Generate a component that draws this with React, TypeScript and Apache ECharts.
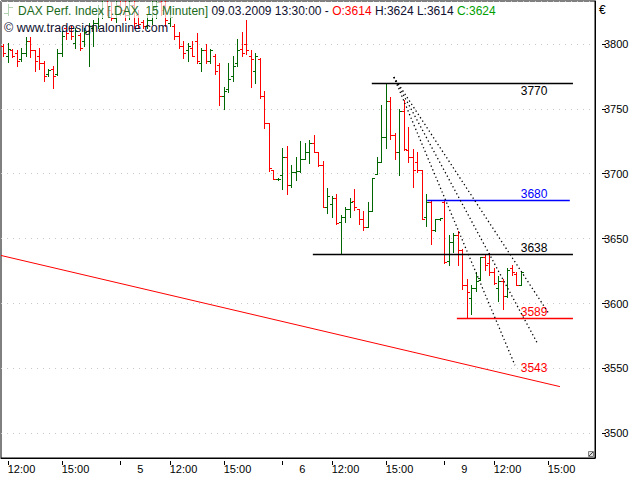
import React, { useEffect, useRef } from 'react';
import * as echarts from 'echarts';

// ---- time axis (15-minute bars, labelled by bar end time) ----
const DAYS = ['4', '5', '6', '9'];
const DAY_FIRST_SLOT = [10, 0, 0, 0]; // slot 0 = 09:15
const DAY_LAST_SLOT = [35, 35, 35, 33]; // slot 35 = 18:00
const TIME_LABELS = ['12:00', '15:00'];

// ---- OHLC values (DAX, 15 min) ----
const OPEN = [
  3798, 3791, 3795, 3793, 3788, 3793, 3802, 3795, 3791, 3785, 3777, 3781, 3777, 3793, 3812, 3810, 3801, 3807, 3802, 3810,
  3812, 3816, 3825, 3834, 3826, 3820, 3830, 3826, 3822, 3830, 3822, 3817, 3814, 3818, 3828, 3832, 3830, 3816, 3814, 3806,
  3798, 3795, 3797, 3802, 3785, 3795, 3787, 3791, 3784, 3760, 3765, 3775, 3785, 3796, 3800, 3791, 3779, 3788, 3760, 3739,
  3703, 3696, 3699, 3713, 3691, 3701, 3702, 3711, 3717, 3724, 3717, 3707, 3674, 3677, 3681, 3663, 3667, 3673, 3679, 3673,
  3665, 3659, 3671, 3700, 3709, 3728, 3756, 3730, 3717, 3748, 3718, 3713, 3709, 3703, 3667, 3678, 3657, 3665, 3678, 3633,
  3647, 3653, 3641, 3614, 3604, 3612, 3620, 3636, 3631, 3624, 3612, 3617, 3606, 3627, 3623, 3614,
];
const HIGH = [
  3800, 3801, 3796, 3795, 3797, 3805, 3805, 3795, 3797, 3787, 3781, 3783, 3796, 3810, 3814, 3814, 3812, 3808, 3812, 3816,
  3818, 3830, 3838, 3840, 3832, 3836, 3838, 3834, 3835, 3838, 3826, 3818, 3822, 3834, 3838, 3842, 3840, 3826, 3815, 3809,
  3802, 3801, 3802, 3808, 3797, 3800, 3796, 3792, 3785, 3767, 3785, 3791, 3804, 3809, 3818, 3795, 3793, 3789, 3764, 3739,
  3703, 3697, 3720, 3721, 3707, 3713, 3725, 3724, 3726, 3730, 3717, 3710, 3689, 3683, 3684, 3668, 3674, 3681, 3688, 3673,
  3671, 3678, 3697, 3713, 3753, 3770, 3759, 3731, 3750, 3757, 3736, 3719, 3717, 3703, 3684, 3680, 3665, 3666, 3680, 3653,
  3654, 3656, 3642, 3619, 3614, 3624, 3636, 3638, 3639, 3627, 3621, 3619, 3627, 3630, 3624, 3624,
];
const LOW = [
  3791, 3786, 3790, 3783, 3787, 3791, 3790, 3779, 3781, 3771, 3775, 3766, 3776, 3791, 3804, 3804, 3797, 3795, 3798, 3783,
  3798, 3812, 3820, 3822, 3818, 3817, 3822, 3818, 3819, 3812, 3812, 3812, 3812, 3815, 3820, 3822, 3814, 3814, 3804, 3797,
  3789, 3787, 3791, 3785, 3779, 3785, 3785, 3777, 3753, 3750, 3763, 3771, 3783, 3791, 3792, 3767, 3770, 3758, 3735, 3702,
  3696, 3695, 3688, 3684, 3690, 3695, 3701, 3711, 3708, 3717, 3706, 3674, 3670, 3667, 3661, 3638, 3663, 3667, 3672, 3661,
  3657, 3659, 3671, 3700, 3709, 3720, 3727, 3711, 3699, 3718, 3709, 3690, 3701, 3665, 3660, 3646, 3656, 3664, 3631, 3630,
  3640, 3630, 3611, 3589, 3592, 3610, 3618, 3626, 3622, 3615, 3602, 3596, 3605, 3622, 3614, 3614,
];
const CLOSE = [
  3793, 3796, 3791, 3787, 3793, 3802, 3795, 3787, 3785, 3775, 3780, 3775, 3793, 3806, 3808, 3806, 3810, 3797, 3809, 3814,
  3816, 3825, 3834, 3826, 3820, 3830, 3826, 3822, 3830, 3816, 3815, 3814, 3818, 3828, 3832, 3826, 3818, 3821, 3806, 3798,
  3793, 3798, 3791, 3787, 3795, 3787, 3795, 3779, 3760, 3764, 3773, 3783, 3795, 3793, 3795, 3788, 3791, 3760, 3739, 3704,
  3696, 3696, 3713, 3691, 3701, 3702, 3711, 3717, 3724, 3717, 3707, 3674, 3683, 3681, 3662, 3667, 3673, 3678, 3674, 3665,
  3659, 3671, 3697, 3709, 3728, 3756, 3730, 3717, 3748, 3719, 3713, 3703, 3703, 3665, 3678, 3657, 3665, 3666, 3632, 3647,
  3653, 3641, 3614, 3609, 3612, 3617, 3636, 3630, 3624, 3616, 3617, 3606, 3626, 3624, 3614, 3624,
];

// ---- drawing tools (positions in bar-index units and index values) ----
const LEVEL_VALUES = [3770, 3680, 3638, 3589];
const LEVEL_FROM = [81.9, 94.2, 68.8, 100.8];
const LEVEL_TO = [126.6, 125.9, 126.6, 126.6];
const LEVEL_COLORS = ['#000000', '#0000ff', '#000000', '#ff0000'];
const LEVEL_LABEL_BELOW = [true, false, false, false];
const LABEL_INDEX = 115;

const TREND_FROM = [-0.5, 3637];
const TREND_TO = [123.7, 3536];

const FAN_START = [86.8, 3774.4];
const FAN_END_INDEX = [113.7, 118.6, 121.1];
const FAN_END_VALUE = [3552.5, 3570, 3593];

const Y_MIN = 3481;
const Y_MAX = 3833;

const GREEN = '#006600';
const RED = '#ff0000';
const FONT = "'Liberation Sans', Arial, sans-serif";

function pad2(n: number) {
  return n < 10 ? '0' + n : String(n);
}

const CATS: string[] = [];
DAYS.forEach((d, k) => {
  for (let s = DAY_FIRST_SLOT[k]; s <= DAY_LAST_SLOT[k]; s++) {
    const m = 9 * 60 + 15 + s * 15;
    CATS.push(d + ' ' + pad2(Math.floor(m / 60)) + ':' + pad2(m % 60));
  }
});

function isLabelled(index: number, value: string) {
  const t = value.split(' ')[1];
  return t === '09:15' || TIME_LABELS.indexOf(t) >= 0;
}

function px(api: any, idx: number, v: number) {
  const a = api.coord([0, v]);
  const b = api.coord([1, v]);
  return [a[0] + (b[0] - a[0]) * idx, a[1]];
}

export default function App() {
  const ref = useRef<HTMLDivElement>(null);
  useEffect(() => {
    if (!ref.current) return;
    const chart = echarts.init(ref.current, undefined, { renderer: 'svg' });

    const ohlc = OPEN.map((o, i) => [i, o, HIGH[i], LOW[i], CLOSE[i]]);

    const option: any = {
      animation: false,
      backgroundColor: '#ffffff',
      textStyle: { fontFamily: FONT },
      grid: {
        left: 1,
        right: 45,
        top: 1,
        bottom: 22,
        show: true,
        borderColor: '#000',
        borderWidth: 1,
        backgroundColor: 'transparent',
      },
      xAxis: [
        {
          type: 'category',
          data: CATS,
          boundaryGap: true,
          axisLine: { show: true, lineStyle: { color: '#000' } },
          axisTick: { show: false },
          axisLabel: { show: false },
          splitLine: { show: false },
        },
        {
          type: 'category',
          data: CATS,
          position: 'bottom',
          offset: 3,
          boundaryGap: true,
          axisLine: { show: false },
          axisTick: {
            show: true,
            alignWithLabel: true,
            interval: isLabelled,
            length: 4,
            lineStyle: { color: '#000' },
          },
          axisLabel: {
            interval: isLabelled,
            align: 'left',
            margin: 2,
            fontSize: 11,
            fontFamily: FONT,
            color: '#000',
            formatter: (v: string) => {
              const [d, t] = v.split(' ');
              return t === '09:15' ? '{d|' + d + '}' : t;
            },
            rich: { d: { padding: [0, 0, 0, 17], fontSize: 11, fontFamily: FONT, color: '#000' } },
          },
          splitLine: { show: false },
        },
      ],
      yAxis: [
        {
          type: 'value',
          position: 'right',
          min: Y_MIN,
          max: Y_MAX,
          splitNumber: 7,
          axisLine: { show: true, lineStyle: { color: '#000' } },
          axisTick: { show: false },
          axisLabel: { show: false },
          splitLine: { show: true, lineStyle: { color: '#c8c8c8', type: [1, 5], width: 1 } },
        },
        {
          type: 'value',
          position: 'right',
          offset: 7,
          min: Y_MIN,
          max: Y_MAX,
          splitNumber: 7,
          axisLine: { show: false },
          axisTick: { show: true, length: 4, lineStyle: { color: '#000' } },
          axisLabel: {
            showMinLabel: false,
            showMaxLabel: false,
            margin: 2,
            fontSize: 11,
            fontFamily: FONT,
            color: '#000',
            formatter: (v: number) => String(v),
          },
          splitLine: { show: false },
        },
      ],
      series: [
        {
          type: 'custom',
          name: 'DAX',
          clip: true,
          silent: true,
          xAxisIndex: 0,
          yAxisIndex: 0,
          encode: { x: 0, y: [1, 2, 3, 4] },
          data: ohlc,
          renderItem: (params: any, api: any) => {
            const i = api.value(0);
            const o = api.value(1);
            const h = api.value(2);
            const l = api.value(3);
            const c = api.value(4);
            const pH = api.coord([i, h]);
            const pL = api.coord([i, l]);
            const pO = api.coord([i, o]);
            const pC = api.coord([i, c]);
            const x = Math.round(pH[0]) + 0.5;
            const color = c >= o ? GREEN : RED;
            const yo = Math.round(pO[1]) + 0.5;
            const yc = Math.round(pC[1]) + 0.5;
            const st = { stroke: color, lineWidth: 1 };
            return {
              type: 'group',
              children: [
                { type: 'line', shape: { x1: x, y1: Math.round(pH[1]), x2: x, y2: Math.round(pL[1]) + 1 }, style: st },
                { type: 'line', shape: { x1: x - 2.5, y1: yo, x2: x, y2: yo }, style: st },
                { type: 'line', shape: { x1: x, y1: yc, x2: x + 2.5, y2: yc }, style: st },
              ],
            };
          },
        },
        {
          type: 'custom',
          name: 'levels',
          clip: true,
          silent: true,
          encode: { x: 0, y: 1 },
          data: LEVEL_VALUES.map((v, k) => [Math.round(LEVEL_FROM[k]), v]),
          renderItem: (params: any, api: any) => {
            const k = params.dataIndex;
            const v = LEVEL_VALUES[k];
            const a = px(api, LEVEL_FROM[k], v);
            const b = px(api, LEVEL_TO[k], v);
            const t = px(api, LABEL_INDEX, v);
            const y = Math.round(a[1]) + 0.5;
            return {
              type: 'group',
              children: [
                {
                  type: 'line',
                  shape: { x1: a[0], y1: y, x2: b[0], y2: y },
                  style: { stroke: LEVEL_COLORS[k], lineWidth: 1.3 },
                },
                {
                  type: 'text',
                  x: t[0],
                  y: LEVEL_LABEL_BELOW[k] ? y + 1.5 : y - 1,
                  style: {
                    text: String(v),
                    fill: LEVEL_COLORS[k],
                    font: '12px ' + FONT,
                    align: 'left',
                    verticalAlign: LEVEL_LABEL_BELOW[k] ? 'top' : 'bottom',
                  },
                },
              ],
            };
          },
        },
        {
          type: 'custom',
          name: 'trend',
          clip: true,
          silent: true,
          encode: { x: 0, y: 1 },
          data: [[0, TREND_FROM[1]]],
          renderItem: (params: any, api: any) => {
            const a = px(api, TREND_FROM[0], TREND_FROM[1]);
            const b = px(api, TREND_TO[0], TREND_TO[1]);
            const slope = (TREND_TO[1] - TREND_FROM[1]) / (TREND_TO[0] - TREND_FROM[0]);
            const lv = TREND_FROM[1] + slope * (LABEL_INDEX - TREND_FROM[0]);
            const t = px(api, LABEL_INDEX, lv);
            return {
              type: 'group',
              children: [
                { type: 'line', shape: { x1: a[0], y1: a[1], x2: b[0], y2: b[1] }, style: { stroke: RED, lineWidth: 1 } },
                {
                  type: 'text',
                  x: t[0],
                  y: t[1] - 3,
                  style: {
                    text: String(Math.round(lv)),
                    fill: RED,
                    font: '12px ' + FONT,
                    align: 'left',
                    verticalAlign: 'bottom',
                  },
                },
              ],
            };
          },
        },
        {
          type: 'custom',
          name: 'fan',
          clip: true,
          silent: true,
          encode: { x: 0, y: 1 },
          data: FAN_END_INDEX.map((e, k) => [Math.round(e), FAN_END_VALUE[k]]),
          renderItem: (params: any, api: any) => {
            const k = params.dataIndex;
            const a = px(api, FAN_START[0], FAN_START[1]);
            const b = px(api, FAN_END_INDEX[k], FAN_END_VALUE[k]);
            return {
              type: 'line',
              shape: { x1: a[0], y1: a[1], x2: b[0], y2: b[1] },
              style: { stroke: '#000', lineWidth: 1.3, lineDash: [1.3, 2.7] },
            };
          },
        },
      ],
      graphic: [
        {
          type: 'rect',
          z: 50,
          silent: true,
          shape: { x: 2, y: 2, width: 553, height: 16 },
          style: { fill: 'rgba(255,255,255,0.7)' },
        },
        {
          type: 'group',
          z: 60,
          silent: true,
          children: [
            { type: 'line', shape: { x1: 8.5, y1: 4, x2: 8.5, y2: 16 }, style: { stroke: GREEN, lineWidth: 1 } },
            { type: 'line', shape: { x1: 4, y1: 13.5, x2: 8.5, y2: 13.5 }, style: { stroke: GREEN, lineWidth: 1 } },
            { type: 'line', shape: { x1: 8.5, y1: 7.5, x2: 13, y2: 7.5 }, style: { stroke: GREEN, lineWidth: 1 } },
          ],
        },
        {
          type: 'text',
          z: 60,
          silent: true,
          x: 18,
          y: 11,
          style: {
            text:
              '{g|DAX Perf. Index [.DAX  15 Minuten]} {k|09.03.2009 13:30:00 -} {r|O:3614} {k|H:3624} {k|L:3614} {c|C:3624}',
            font: '12px ' + FONT,
            fill: '#101030',
            verticalAlign: 'middle',
            rich: {
              g: { fill: '#1c6a1c', font: '12px ' + FONT },
              k: { fill: '#101030', font: '12px ' + FONT },
              r: { fill: '#ff0000', font: '12px ' + FONT },
              c: { fill: '#00a000', font: '12px ' + FONT },
            },
          },
        },
        {
          type: 'text',
          z: 60,
          silent: true,
          x: 4,
          y: 28,
          style: {
            text: '© www.tradesignalonline.com',
            font: '12.5px ' + FONT,
            fill: '#101030',
            verticalAlign: 'middle',
          },
        },
        {
          type: 'text',
          z: 60,
          silent: true,
          x: 599,
          y: 10,
          style: { text: '€', font: '12px ' + FONT, fill: '#000', verticalAlign: 'middle' },
        },
        {
          type: 'group',
          z: 60,
          silent: true,
          children: [
            { type: 'rect', shape: { x: 588.5, y: 451.5, width: 5, height: 5 }, style: { fill: '#e0e0e0', stroke: '#808080', lineWidth: 1 } },
            { type: 'line', shape: { x1: 589, y1: 456, x2: 593, y2: 452 }, style: { stroke: '#404040', lineWidth: 1 } },
          ],
        },
      ],
    };

    chart.setOption(option);
    return () => chart.dispose();
  }, []);

  return (
    <div
      ref={ref}
      style={{ position: 'fixed', left: 0, top: 0, width: 640, height: 480, background: '#fff' }}
    />
  );
}
